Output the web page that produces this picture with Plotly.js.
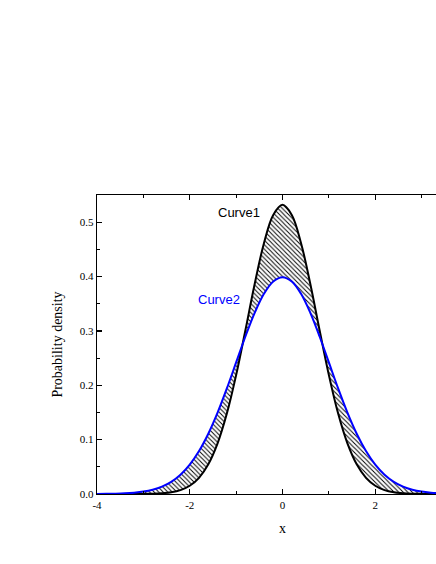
<!DOCTYPE html>
<html>
<head>
<meta charset="utf-8">
<script src="https://cdn.plot.ly/plotly-3.0.1.min.js"></script>
<style>
html,body{margin:0;padding:0;overflow:hidden;background:#fff;width:436px;height:564px;}
#chart{width:520px;height:564px;}
</style>
</head>
<body>
<div id="chart"></div>
<script>
const xValues = [-4,-3.8,-3.6,-3.4,-3.2,-3,-2.8,-2.6,-2.4,-2.2,-2,-1.8,-1.6,-1.4,-1.2,-1,-0.8,-0.6,-0.4,-0.2,0,
  0.2,0.4,0.6,0.8,1,1.2,1.4,1.6,1.8,2,2.2,2.4,2.6,2.8,3,3.2,3.4,3.6,3.8,4];
const curve1 = [0,0,0,0,0.0001,0.0002,0.0005,0.0013,0.0032,0.0072,0.0152,0.0298,0.0546,0.0931,0.1479,0.2187,0.3012,0.3862,0.4614,0.5133,0.5319,
  0.5133,0.4614,0.3862,0.3012,0.2187,0.1479,0.0931,0.0546,0.0298,0.0152,0.0072,0.0032,0.0013,0.0005,0.0002,0.0001,0,0,0,0];
const curve2 = [0.0001,0.0003,0.0006,0.0012,0.0024,0.0044,0.0079,0.0136,0.0224,0.0355,0.0540,0.0790,0.1109,0.1497,0.1942,0.2420,0.2897,0.3332,0.3683,0.3910,0.3989,
  0.3910,0.3683,0.3332,0.2897,0.2420,0.1942,0.1497,0.1109,0.0790,0.0540,0.0355,0.0224,0.0136,0.0079,0.0044,0.0024,0.0012,0.0006,0.0003,0.0001];
const xTickVals = [-4,-2,0,2];
const xTickText = ["-4","-2","0","2"];
const seriesNames = ["Curve1","Curve2"];

const traces = [
  {x:xValues, y:curve1, type:'scatter', mode:'lines', name:seriesNames[0],
   line:{color:'#000000', width:2, shape:'spline'}},
  {x:xValues, y:curve2, type:'scatter', mode:'lines', name:seriesNames[1],
   line:{color:'#0000ff', width:2, shape:'spline'},
   fill:'tonexty', fillcolor:'rgba(0,0,0,0)',
   fillpattern:{shape:'\\', fgcolor:'#000000', bgcolor:'#ffffff', size:3.2, solidity:0.3}}
];

const axisCommon = {
  showline:true, linecolor:'#000', linewidth:1.3, mirror:'ticks',
  ticks:'inside', ticklen:5, tickwidth:1.2, tickcolor:'#000',
  showgrid:false, zeroline:false,
  tickfont:{family:'Liberation Serif, Times New Roman, serif', size:11, color:'#000'}
};

const layout = {
  width:520, height:564, autosize:false,
  margin:{l:97, r:52, t:195, b:70},
  paper_bgcolor:'#fff', plot_bgcolor:'#fff',
  showlegend:false,
  xaxis:Object.assign({}, axisCommon, {
    range:[-4,4], tickvals:xTickVals, ticktext:xTickText,
    minor:{dtick:1, ticks:'inside', ticklen:3, tickwidth:1, tickcolor:'#000', tick0:0},
    title:{text:'x', font:{family:'Liberation Serif, Times New Roman, serif', size:14, color:'#000'}, standoff:13}
  }),
  yaxis:Object.assign({}, axisCommon, {
    range:[0,0.55], dtick:0.1, tick0:0, tickformat:'.1f',
    minor:{dtick:0.05, ticks:'inside', ticklen:3, tickwidth:1, tickcolor:'#000', tick0:0},
    title:{text:'Probability density', font:{family:'Liberation Serif, Times New Roman, serif', size:14, color:'#000'}, standoff:14}
  }),
  annotations:[
    {x:-0.93, y:0.517, xref:'x', yref:'y', text:seriesNames[0], showarrow:false,
     font:{family:'Liberation Sans, Arial, sans-serif', size:13, color:'#000'}},
    {x:-1.38, y:0.357, xref:'x', yref:'y', text:seriesNames[1], showarrow:false,
     font:{family:'Liberation Sans, Arial, sans-serif', size:13, color:'#0000ff'}}
  ]
};

Plotly.newPlot('chart', traces, layout, {displayModeBar:false, staticPlot:true});
</script>
</body>
</html>
